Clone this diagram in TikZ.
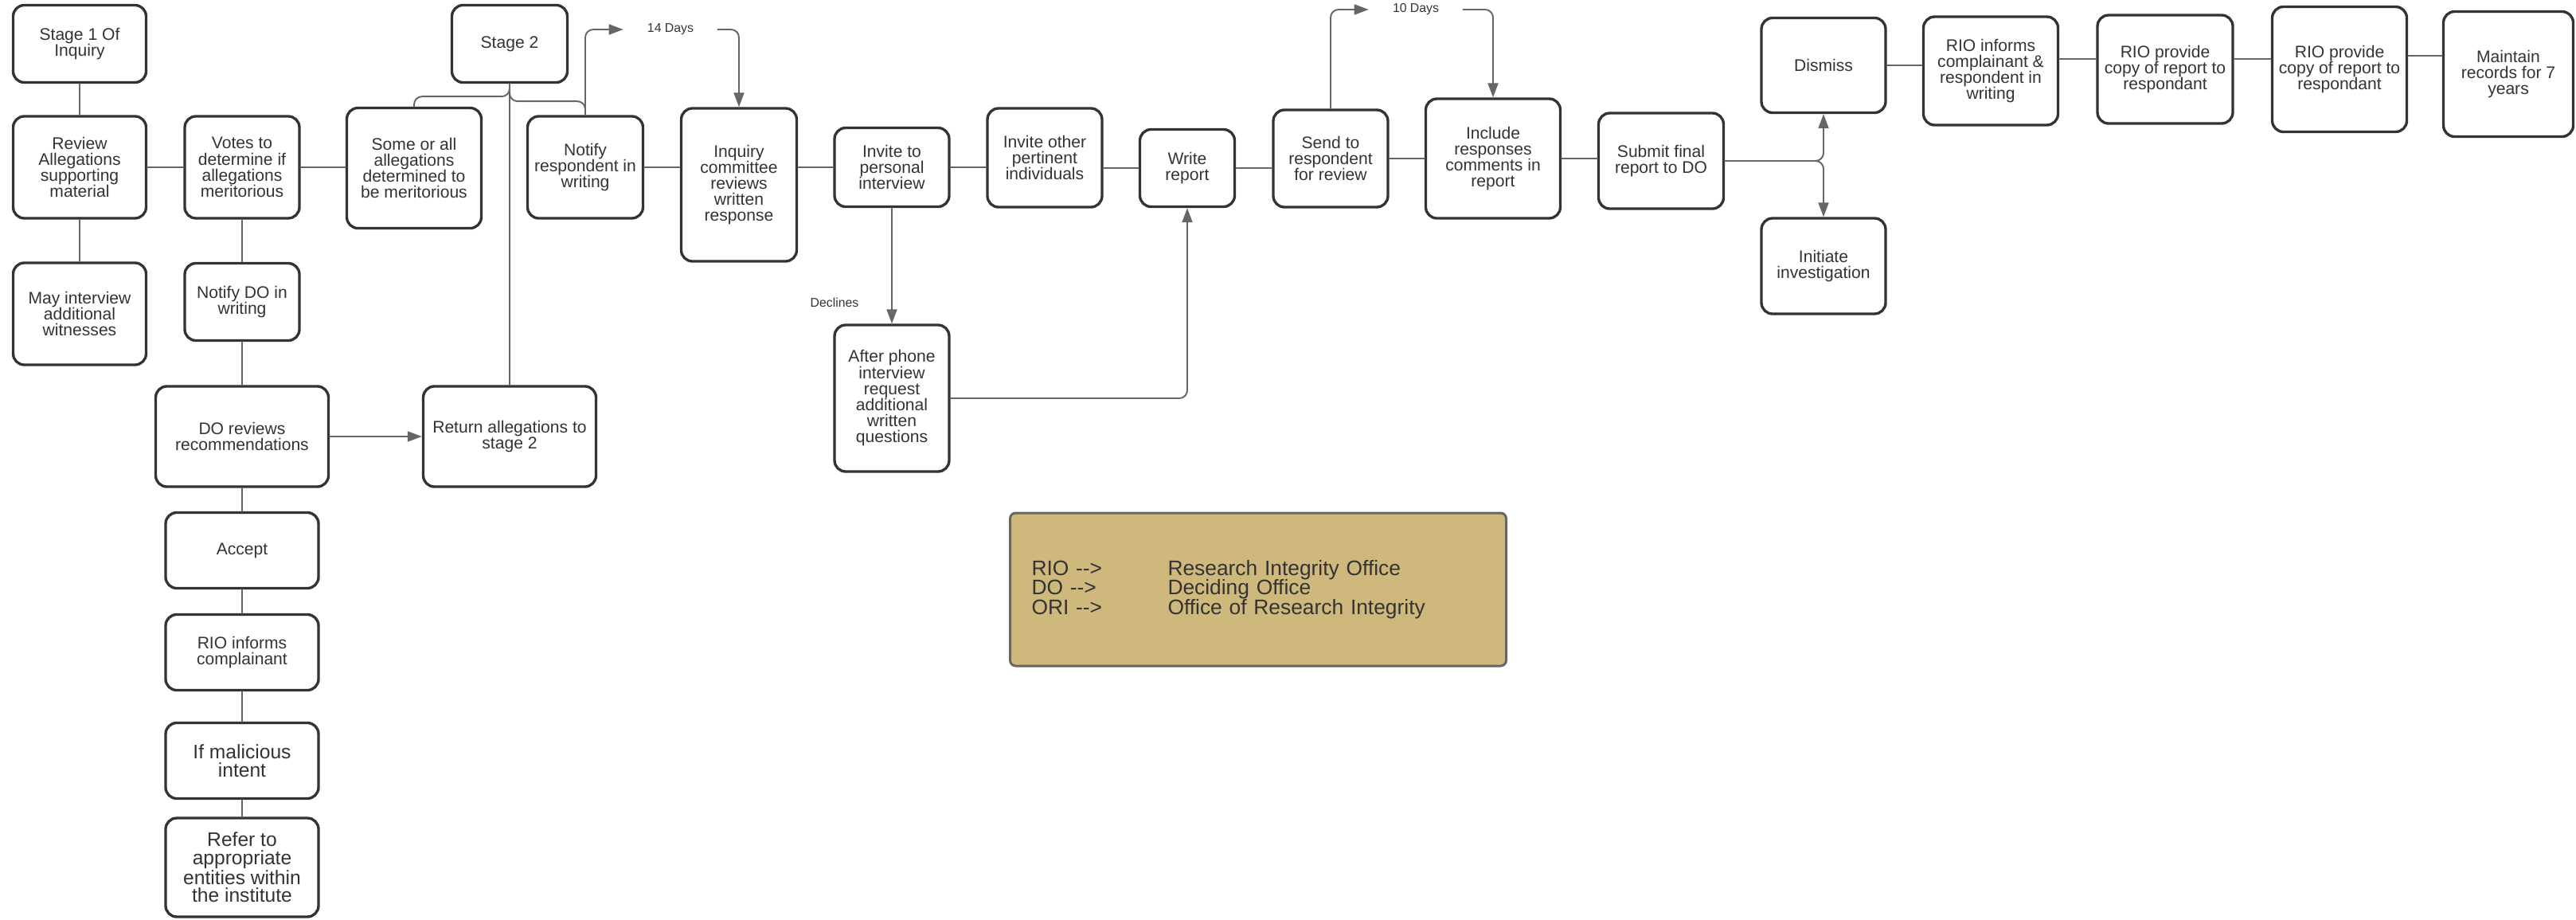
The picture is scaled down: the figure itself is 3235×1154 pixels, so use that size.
\documentclass[tikz,border=0pt]{standalone}
\usepackage{fontspec}
\setmainfont{Liberation Sans}
\usetikzlibrary{arrows.meta}
\definecolor{boxline}{HTML}{333333}
\definecolor{linegray}{HTML}{666666}
\definecolor{legendfill}{RGB}{206,184,124}
\begin{document}
\begin{tikzpicture}[x=0.2mm, y=-0.2mm, line join=round, line cap=round, >={Triangle[length=0.36cm,width=0.26cm]},
	box/.style={draw=boxline, line width=1.9pt, rounded corners=0.28cm, align=center, text=boxline, inner sep=2pt, font=\fontsize{12}{11.5}\selectfont},
	sz/.style 2 args={minimum width=#1, minimum height=#2},
	big/.style={font=\fontsize{14}{13}\selectfont},
	conn/.style={draw=linegray, line width=1.1pt, rounded corners=0.2cm},
	lbl/.style={text=boxline, inner xsep=0.6cm, inner ysep=0pt, font=\fontsize{9}{9}\selectfont}]
	\useasboundingbox (0,0) rectangle (3235,1154);
	% stage 1
	\node[box, sz={3.34cm}{1.94cm}] (stage1) at (100,55) {Stage 1 Of\\Inquiry};
	\node[box, sz={3.34cm}{2.56cm}] (review) at (100,210) {Review\\Allegations\\supporting\\material};
	\node[box, sz={3.34cm}{2.56cm}] (mayint) at (100,394) {May interview\\additional\\witnesses};
	\node[box, sz={2.88cm}{2.56cm}] (votes) at (304,210) {Votes to\\determine if\\allegations\\meritorious};
	\node[box, sz={2.88cm}{1.94cm}] (notifydo) at (304,379) {Notify DO in\\writing};
	\node[box, sz={3.38cm}{3.02cm}] (someall) at (520,211) {Some or all\\allegations\\determined to\\be meritorious};
	\node[box, sz={4.34cm}{2.52cm}] (doreview) at (304,548) {DO reviews\\recommendations};
	\node[box, sz={4.34cm}{2.52cm}] (returnall) at (640,548) {Return allegations to\\stage 2};
	\node[box, sz={3.84cm}{1.90cm}] (accept) at (304,691) {Accept};
	\node[box, sz={3.84cm}{1.90cm}] (rioinfcomp) at (304,819) {RIO informs\\complainant};
	\node[box, big, sz={3.84cm}{1.90cm}] (malicious) at (304,955) {If malicious\\intent};
	\node[box, big, sz={3.84cm}{2.48cm}] (refer) at (304,1089) {Refer to\\appropriate\\entities within\\the institute};
	% stage 2
	\node[box, sz={2.90cm}{1.94cm}] (stage2) at (640,55) {Stage 2};
	\node[box, sz={2.90cm}{2.56cm}] (notifyresp) at (735,210) {Notify\\respondent in\\writing};
	\node[box, sz={2.90cm}{3.84cm}] (inquiry) at (928,232) {Inquiry\\committee\\reviews\\written\\response};
	\node[box, sz={2.88cm}{1.98cm}] (invitepers) at (1120,210) {Invite to\\personal\\interview};
	\node[box, sz={2.88cm}{3.68cm}] (afterphone) at (1120,500) {After phone\\interview\\request\\additional\\written\\questions};
	\node[box, sz={2.88cm}{2.48cm}] (inviteother) at (1312,198) {Invite other\\pertinent\\individuals};
	\node[box, sz={2.38cm}{1.94cm}] (write) at (1491,211) {Write\\report};
	\node[box, sz={2.88cm}{2.44cm}] (send) at (1671,199) {Send to\\respondent\\for review};
	\node[box, sz={3.38cm}{3.00cm}] (include) at (1875,199) {Include\\responses\\comments in\\report};
	\node[box, sz={3.14cm}{2.40cm}] (submit) at (2086,202) {Submit final\\report to DO};
	\node[box, sz={3.12cm}{2.38cm}] (dismiss) at (2290,82) {Dismiss};
	\node[box, sz={3.12cm}{2.40cm}] (initiate) at (2290,334) {Initiate\\investigation};
	\node[box, sz={3.38cm}{2.72cm}] (rioinf) at (2500,89) {RIO informs\\complainant \&\\respondent in\\writing};
	\node[box, sz={3.40cm}{2.72cm}] (riocopya) at (2719,87) {RIO provide\\copy of report to\\respondant};
	\node[box, sz={3.38cm}{3.14cm}] (riocopyb) at (2938,87) {RIO provide\\copy of report to\\respondant};
	\node[box, sz={3.26cm}{3.14cm}] (maintain) at (3150,93) {Maintain\\records for 7\\years};
	% labels
	\node[lbl] (days14) at (842,37) {14 Days};
	\node[lbl] (days10) at (1778,12) {10 Days};
	\node[lbl, inner xsep=0pt] (declines) at (1048,380) {Declines};
	% legend
	\node[draw=linegray, line width=1.7pt, fill=legendfill, rounded corners=0.14cm, minimum width=12.46cm, minimum height=3.84cm,
		text width=11.38cm, inner xsep=0.54cm, align=left, text=boxline, font=\fontsize{15}{14}\selectfont] (legend) at (1580,740)
		{\makebox[3.42cm][l]{RIO -{}->}Research Integrity Office\\\makebox[3.42cm][l]{DO -{}->}Deciding Office\\\makebox[3.42cm][l]{ORI -{}->}Office of Research Integrity};
	% connectors
	\draw[conn] (stage1) -- (review);
	\draw[conn] (review) -- (mayint);
	\draw[conn] (review) -- (votes);
	\draw[conn] (votes.east) -- (votes.east -| someall.west);
	\draw[conn] (votes) -- (notifydo);
	\draw[conn] (notifydo) -- (doreview);
	\draw[conn,->] (doreview) -- (returnall);
	\foreach \a/\b in {doreview/accept, accept/rioinfcomp, rioinfcomp/malicious, malicious/refer}
		\draw[conn] (\a) -- (\b);
	\draw[conn] (stage2) -- (returnall);
	\draw[conn] (stage2.south) -- ++(0,16) -| (someall.north);
	\draw[conn] (stage2.south) -- ++(0,22) -| (notifyresp.north);
	\draw[conn,->] (notifyresp.north) |- (days14.west);
	\draw[conn,->] (days14.east) -| (inquiry.north);
	\draw[conn] (notifyresp.east) -- (notifyresp.east -| inquiry.west);
	\draw[conn] (invitepers.west -| inquiry.east) -- (invitepers.west);
	\draw[conn] (invitepers.east) -- (invitepers.east -| inviteother.west);
	\draw[conn] (write.west -| inviteother.east) -- (write.west);
	\draw[conn,->] (invitepers) -- (afterphone);
	\draw[conn,->] (afterphone.east) -| (write.south);
	\draw[conn] (write.east) -- (write.east -| send.west);
	\draw[conn,->] (send.north) |- (days10.west);
	\draw[conn,->] (days10.east) -| (include.north);
	\draw[conn] (send.east) -- (send.east -| include.west);
	\draw[conn] (include.east) -- (include.east -| submit.west);
	\draw[conn,->] (submit.east) -| (dismiss.south);
	\draw[conn,->] (submit.east) -| (initiate.north);
	\draw[conn] (dismiss.east) -- (dismiss.east -| rioinf.west);
	\draw[conn] ([yshift=0.3cm]rioinf.east) -- ([yshift=0.3cm]rioinf.east -| riocopya.west);
	\draw[conn] ([yshift=0.26cm]riocopya.east) -- ([yshift=0.26cm]riocopya.east -| riocopyb.west);
	\draw[conn] ([yshift=0.34cm]riocopyb.east) -- ([yshift=0.34cm]riocopyb.east -| maintain.west);
\end{tikzpicture}
\end{document}
